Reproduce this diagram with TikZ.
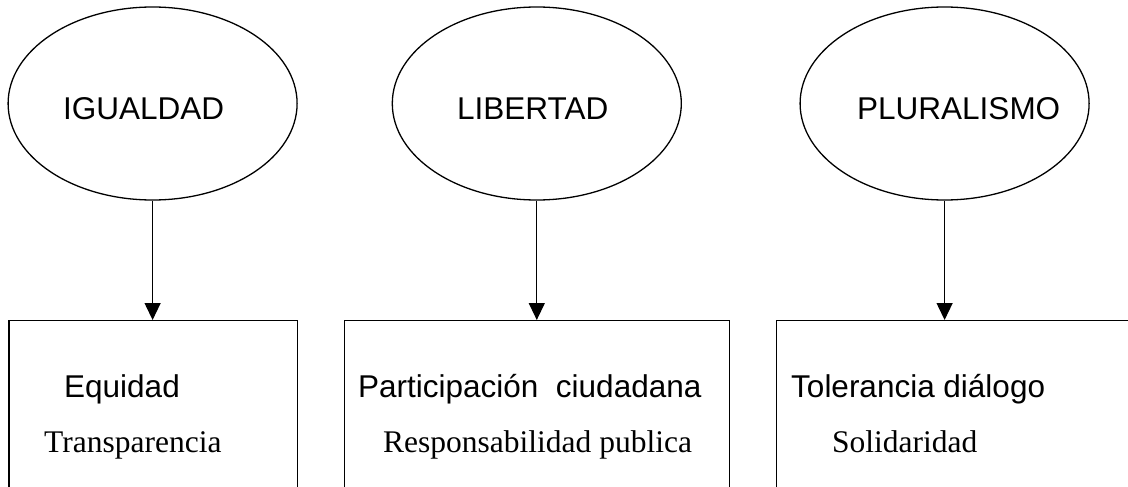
\documentclass[tikz,border=0pt]{standalone}
\usepackage{fontspec}
\setmainfont{Liberation Serif}
\newfontfamily\arialf{Liberation Sans}
\usetikzlibrary{shapes.geometric,arrows.meta}
\tikzset{
  oval/.style={draw, line width=1.3pt, ellipse, minimum width=289pt, minimum height=193pt, inner sep=0pt},
  boxn/.style={draw, line width=1.3pt, rectangle, anchor=north west, minimum height=260pt, inner sep=0pt},
  sanst/.style={inner sep=0pt, anchor=base west, font=\arialf\fontsize{31.5}{36}\selectfont},
  serift/.style={inner sep=0pt, anchor=base west, font=\rmfamily\fontsize{31.5}{36}\selectfont},
  arr/.style={line width=1.3pt, -{Triangle[length=17pt, width=16pt]}}
}
\begin{document}
\begin{tikzpicture}[x=1pt, y=-1pt]
\useasboundingbox (0,0) rectangle (1128,487);
\clip (0,0) rectangle (1128,487);
% ellipses
\node[oval] (e1) at (152.6,103.5) {};
\node[oval] (e2) at (536.8,103.5) {};
\node[oval] (e3) at (944.6,103.5) {};
\node[sanst] (t1) at (63,120) {IGUALDAD};
\node[sanst] (t2) at (457,120) {LIBERTAD};
\node[sanst] (t3) at (857,120) {PLURALISMO};
% boxes
\node[boxn, minimum width=288.7pt] (b1) at (8.3,320) {};
\node[boxn, minimum width=385pt] (b2) at (344,320) {};
\node[boxn, minimum width=400pt] (b3) at (776,320) {};
% box texts
\node[sanst] (s1) at (64,397) {Equidad};
\node[serift] (r1) at (44,452) {Transparencia};
\node[sanst] (s2) at (358,397) {Participación\ \ ciudadana};
\node[serift] (r2) at (383,452) {Responsabilidad publica};
\node[sanst] (s3) at (791,397) {Tolerancia diálogo};
\node[serift] (r3) at (832,452) {Solidaridad};
% arrows
\draw[arr] (e1.south) -- (e1.south |- b1.north);
\draw[arr] (e2.south) -- (e2.south |- b2.north);
\draw[arr] (e3.south) -- (e3.south |- b3.north);
\end{tikzpicture}
\end{document}
